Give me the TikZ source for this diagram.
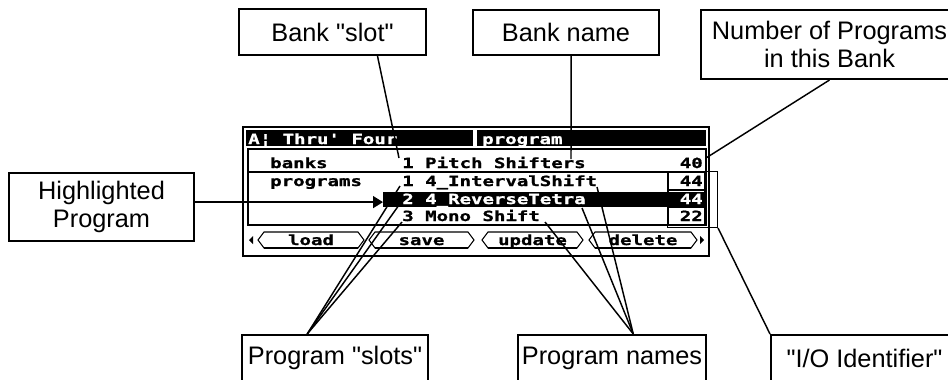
\documentclass[tikz,border=0pt]{standalone}
\usepackage{fontspec}
\setmainfont{Liberation Sans}[Ligatures=TeXOff]
\newfontfamily\lcdfont[FakeStretch=1.36,FakeBold=1.2,Ligatures=TeXOff]{DejaVu Sans Mono}
\usetikzlibrary{calc,arrows.meta}

\tikzset{
  callout/.style={draw, line width=1.5pt, align=center, inner sep=0pt,
    font=\fontsize{19}{21}\selectfont},
  leader/.style={line width=1.1pt},
  lcd/.style={inner sep=0pt, anchor=base west,
    font=\lcdfont\bfseries\fontsize{10.5}{12}\selectfont},
  lcdnum/.style={lcd, anchor=base east},
}

\begin{document}
\begin{tikzpicture}[x=0.75pt,y=0.75pt,yscale=-1,xscale=1]
  \useasboundingbox (0,0) rectangle (948,379);

  % callout boxes
  \node[callout, minimum width=140.25pt, minimum height=34.5pt] (bslot) at (332.5,32) {Bank "slot"};
  \node[callout, minimum width=139.5pt, minimum height=33.75pt] (bname) at (566,32.5) {Bank name};
  \node[callout, minimum width=192.75pt, minimum height=51.75pt] (nprog) at (829.5,44.5) {Number of Programs\\in this Bank};
  \node[callout, minimum width=138.75pt, minimum height=51pt] (hilite) at (101.5,207) {Highlighted\\Program};
  \node[callout, minimum width=139.5pt, minimum height=34.5pt] (pslots) at (335,358) {Program "slots"};
  \node[callout, minimum width=141pt, minimum height=34.5pt] (pnames) at (612,358) {Program names};
  \node[callout, minimum width=140.25pt, minimum height=34.5pt] (ioid) at (864.5,358) {"I/O Identifier"};

  % the screen
  \draw[line width=1.2pt] (243,127) rectangle (709,256);
  \fill (246,130) rectangle (473,146);
  \fill (477,130) rectangle (706,146);
  \node[lcd, text=white] (title) at (248,144) {A¦ Thru' Four};
  \node[lcd, text=white] (mode) at (482,144) {program};
  \draw[line width=0.8pt] (248,149) rectangle (706,225);
  \draw[line width=0.8pt] (248,172) -- (706,172);
  \node[fill=black, inner sep=0pt, minimum width=242.25pt, minimum height=11.25pt, anchor=west] (hlbar) at (383,199) {};
  \draw[line width=0.8pt] (668,172) rectangle (705,225);
  \draw[line width=0.8pt] (668,190) -- (705,190);
  \draw[line width=0.8pt] (668,207) -- (705,207);
  \node[draw, line width=0.8pt, inner sep=0pt, minimum width=37.5pt, minimum height=42pt, anchor=north west] (iobox) at (667,171) {};

  \node[lcd] (banks) at (270,168) {banks};
  \node[lcd] (progs) at (270,186) {programs};
  \node[lcd] (bank1) at (402,168) {1 Pitch Shifters};
  \node[lcd] (prog1) at (402,186) {1 4\_IntervalShift};
  \node[lcd, text=white] (prog2) at (402,204) {2 4\_ReverseTetra};
  \node[lcd] (prog3) at (402,221) {3 Mono Shift};
  \node[lcdnum] (count) at (703,168) {40};
  \node[lcdnum] (io1) at (703,186) {44};
  \node[lcdnum, text=white] (io2) at (703,204) {44};
  \node[lcdnum] (io3) at (703,221) {22};

  % buttons
  \fill (253,236) -- (249,240) -- (253,244) -- cycle;
  \fill (700,236) -- (704,240) -- (700,244) -- cycle;
  \foreach \x/\w/\t in {258/106/load, 369/105/save, 482/101/update, 589/108/delete} {
    \draw[line width=0.8pt] (\x,240) -- ++(6,-8) -- ++(\w-12,0) -- ++(6,8) -- ++(-6,8) -- ++(12-\w,0) -- cycle;
    \draw[line width=1.6pt] (\x+6,248) -- ++(\w-12,0);
    \node[lcd, anchor=base] (btn-\t) at (\x+\w/2,245) {\t};
  }

  % leader ends
  \coordinate (bankslot) at (399,158);
  \coordinate (bankname) at (571,159);
  \coordinate (bankcount) at (706,158);
  \coordinate (slotA) at (400,186);
  \coordinate (slotB) at (399,205);
  \coordinate (slotC) at (402,222);
  \coordinate (nameA) at (597,187);
  \coordinate (nameB) at (582,208);
  \coordinate (nameC) at (545,222);

  \draw[leader] ($(bslot.south west)!0.738!(bslot.south east)$) -- (bankslot);
  \draw[leader] ($(bname.south west)!0.527!(bname.south east)$) -- (bankname);
  \draw[leader] (nprog.south) -- (bankcount);
  \draw[leader, -{Triangle[length=7.5pt,width=9pt]}] ($(hilite.north east)!0.43!(hilite.south east)$) coordinate (hilitefoot) -- (hilitefoot -| hlbar.west);
  \foreach \c in {slotA,slotB,slotC}
    \draw[leader] ($(pslots.north west)!0.352!(pslots.north east)$) -- (\c);
  \foreach \c in {nameA,nameB,nameC}
    \draw[leader] ($(pnames.north west)!0.612!(pnames.north east)$) -- (\c);
  \draw[leader] (ioid.north west) -- (iobox.south east);
\end{tikzpicture}
\end{document}
